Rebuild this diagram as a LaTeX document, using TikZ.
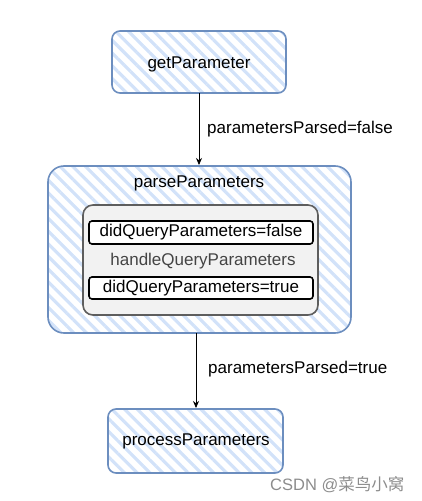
\documentclass[tikz,border=0pt]{standalone}
\usepackage{fontspec}
\setmainfont{Liberation Sans}
\newfontfamily\cjk{Noto Sans CJK SC}
\usetikzlibrary{patterns.meta,arrows.meta}
\definecolor{bstroke}{HTML}{6C8EBF}
\definecolor{bhatch}{HTML}{D2E2F9}
\definecolor{ibox}{HTML}{F2F2F2}
\definecolor{istroke}{HTML}{5E5E5E}
\definecolor{htext}{HTML}{444444}
\tikzset{
  x=1pt,y=-1pt,
  hatchbox/.style={draw=bstroke,line width=1.6pt,rounded corners=#1,
    pattern={Lines[angle=-45,distance=9pt,line width=3.2pt]},pattern color=bhatch},
  hatchbox/.default=8pt,
  txt/.style={font=\fontsize{17}{20}\selectfont,inner sep=0pt},
  flagbox/.style={draw=black,line width=1.6pt,fill=white,rounded corners=3pt},
  conn/.style={-{Stealth[length=7pt,width=6pt]},line width=0.8pt},
}
\begin{document}
\begin{tikzpicture}
\useasboundingbox (0,0) rectangle (422,501);
% getParameter
\draw[hatchbox] (112,31) rectangle (286,93);
\node[txt] (get) at (199,64) {getParameter};
\coordinate (getb) at (199,93);
% parseParameters
\draw[hatchbox=16pt] (48,166) rectangle (351,333);
\node[txt] (parse) at (199,183) {parseParameters};
\coordinate (parset) at (199,165);
\coordinate (parseb) at (196,333);
\draw[draw=istroke,line width=1.6pt,fill=ibox,rounded corners=10pt] (83,205) rectangle (318,315);
\draw[flagbox] (89,221) rectangle (313,244);
\node[txt] (f1) at (201,232.5) {didQueryParameters=false};
\node[txt,text=htext] (handle) at (203,261) {handleQueryParameters};
\draw[flagbox] (89,277) rectangle (313,299);
\node[txt] (f2) at (201,288) {didQueryParameters=true};
% processParameters
\draw[hatchbox] (108,409) rectangle (283,473);
\node[txt] (proc) at (196,441) {processParameters};
\coordinate (proct) at (196,408);
% connectors
\draw[conn] (getb) -- (parset);
\node[txt,anchor=west] (l1) at (207,129) {parametersParsed=false};
\draw[conn] (parseb) -- (proct);
\node[txt,anchor=west] (l2) at (208,369) {parametersParsed=true};
% watermark
\node[inner sep=0pt,anchor=west,text=black!45,font=\fontsize{16.5}{19}\selectfont] (wm) at (270,485) {CSDN @{\cjk 菜鸟小窝}};
\end{tikzpicture}
\end{document}
